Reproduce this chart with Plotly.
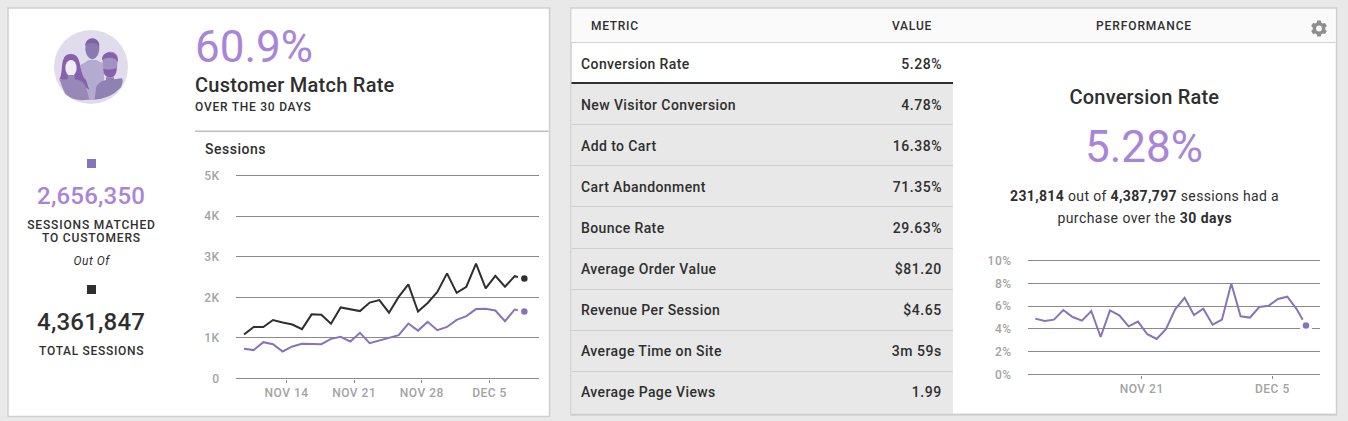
import json
import math
import re
import pandas as pd
import plotly.graph_objects as go

W, H = 1348, 421
dates = list(pd.date_range("2021-11-09 14:24", periods=30, freq="D"))
total_sessions = [1084, 1270, 1270, 1440, 1380, 1330, 1215, 1580, 1570, 1350, 1750, 1700, 1660, 1870, 1930,
                  1620, 2010, 2320, 1650, 1860, 2130, 2590, 2110, 2260, 2830, 2220, 2530, 2260, 2520, 2460]
matched_sessions = [730, 700, 895, 846, 665, 790, 854, 846, 846, 977, 1026, 910, 1125, 870, 930,
                    990, 1067, 1355, 1180, 1395, 1190, 1270, 1445, 1535, 1710, 1715, 1675, 1410, 1700, 1650]
conversion = [4.90, 4.69, 4.81, 5.66, 5.04, 4.72, 5.57, 3.29, 5.63, 5.19, 4.23, 4.64, 3.53, 3.12, 3.97,
              5.74, 6.73, 5.22, 5.77, 4.37, 4.81, 7.99, 5.10, 4.99, 5.92, 6.03, 6.62, 6.82, 5.74, 4.30]
metrics = ["Conversion Rate", "New Visitor Conversion", "Add to Cart", "Cart Abandonment", "Bounce Rate",
           "Average Order Value", "Revenue Per Session", "Average Time on Site", "Average Page Views"]
metric_values = ["5.28%", "4.78%", "16.38%", "71.35%", "29.63%", "$81.20", "$4.65", "3m 59s", "1.99"]
sessions_ticks = [0, 1000, 2000, 3000, 4000, 5000]
sessions_labels = ["0", "1K", "2K", "3K", "4K", "5K"]
conv_ticks = [0, 2, 4, 6, 8, 10]
conv_labels = ["0%", "2%", "4%", "6%", "8%", "10%"]
x_ticks_a = ["2021-11-14", "2021-11-21", "2021-11-28", "2021-12-05"]
x_labels_a = ["NOV 14", "NOV 21", "NOV 28", "DEC 5"]
x_ticks_b = ["2021-11-21", "2021-12-05"]
x_labels_b = ["NOV 21", "DEC 5"]

PURPLE = "#8674b8"
TEXT_PURPLE = "#a985d8"
DARK = "#2f2f2f"
GRID = "#8a8a8a"
TICK = "#a3a3a3"
FONT = "Roboto"


def fx(x):
    return x / W


def fy(y):
    return 1 - y / H


shapes, annotations, spacing = [], [], []


def rect(x0, y0, x1, y1, fill, line=None, lw=0):
    shapes.append(dict(type="rect", xref="paper", yref="paper", x0=fx(x0), x1=fx(x1), y0=fy(y0), y1=fy(y1),
                       fillcolor=fill, line=dict(color=line or fill, width=lw), layer="below"))


def ellipse(cx, cy, rx, ry, fill):
    shapes.append(dict(type="circle", xref="paper", yref="paper", x0=fx(cx - rx), x1=fx(cx + rx),
                       y0=fy(cy + ry), y1=fy(cy - ry), fillcolor=fill, line=dict(width=0), layer="below"))


def path(d, fill, scale=1 / 3):
    toks = re.findall(r"[A-Za-z]|-?\d+\.?\d*", d)
    out, is_x = [], True
    for t in toks:
        if t.isalpha():
            out.append(t)
            is_x = True
        else:
            v = float(t) * scale
            out.append(f"{fx(v):.5f}" if is_x else f"{fy(v):.5f}")
            is_x = not is_x
    shapes.append(dict(type="path", xref="paper", yref="paper", path=" ".join(out), fillcolor=fill,
                       line=dict(width=0), layer="below"))


def text(x, y, s, size=14, color=DARK, anchor="left", weight=500, style="normal", ls=0.0):
    if anchor == "left":
        x -= 1
    annotations.append(dict(xref="paper", yref="paper", x=fx(x), y=fy(y), text=s, showarrow=False,
                            xanchor=anchor, yanchor="middle", align=anchor, borderpad=0,
                            font=dict(family=FONT, size=size, color=color, weight=weight, style=style)))
    spacing.append(ls)


# page cards
rect(8, 8, 549.5, 416.5, "#ffffff", "#cfcfcf", 1.5)
rect(571, 8, 1336.5, 415, "#ffffff", "#cfcfcf", 1.5)

# table
rect(571.5, 9, 1335.5, 42, "#fafafa")
rect(571.5, 42, 1335.5, 43, "#d0d0d0")
rect(571.5, 84, 953, 413.5, "#e8e8e8")
rect(571.5, 82, 953, 84, DARK)
row_edges = [124, 165, 206, 248, 289, 330, 371]
for e in row_edges:
    rect(571.5, e, 953, e + 1, "#cfcfcf")
rect(571.5, 413.5, 1335.5, 415, "#cfcfcf")
text(591, 26, "METRIC", 12, ls=0.7)
text(933, 26, "VALUE", 12, anchor="right", ls=0.8)
text(1144, 26, "PERFORMANCE", 12, anchor="center", ls=0.9)
for i, (m, v) in enumerate(zip(metrics, metric_values)):
    yc = 64 + i * 41
    text(581, yc, m, 14, ls=0.4)
    text(943, yc, v, 14, anchor="right", ls=0.55)

# gear
gx, gy = 1319, 28.5
pts = []
for k in range(6):
    a = math.radians(60 * k - 90)
    for da, r in ((-22, 6.2), (-13, 8.2), (13, 8.2), (22, 6.2)):
        pts.append((gx + r * math.cos(a + math.radians(da)), gy + r * math.sin(a + math.radians(da))))
path("M " + " L ".join(f"{p[0]:.2f} {p[1]:.2f}" for p in pts) + " Z", "#8e8e8e", scale=1)
ellipse(gx, gy, 2.9, 2.9, "#fafafa")

# performance panel
text(1144, 97, "Conversion Rate", 20, anchor="center", ls=0.2)
text(1144, 147, "5.28%", 44, TEXT_PURPLE, anchor="center", weight=400)
text(1144, 196, "<b>231,814</b> out of <b>4,387,797</b> sessions had a", 14, anchor="center", weight=400, ls=0.36)
text(1144, 218, "purchase over the <b>30 days</b>", 14, anchor="center", weight=400, ls=0.45)

# left panel icon
ellipse(91, 67, 37, 37, "#e0dcec")
path("M 241 300 L 241 195 Q 262 184 265 180 L 290 180 Q 296 186 312 190 L 312 240 L 290 300 Z", "#b4acd0")
path("M 256 145 C 256 105 298 105 298 145 C 298 165 286 178 277 178 C 268 178 256 165 256 145 Z", "#8b7ab0")
path("M 256 138 C 254 108 300 108 298 138 C 290 126 264 126 256 138 Z", "#7f60ab")
path("M 178 238 C 192 220 176 162 212 162 C 250 162 234 220 258 240 L 268 270 L 230 240 L 190 240 Z", "#8560ad")
ellipse(213 / 3, 204 / 3, 17 / 3, 24 / 3, "#f0ecf8")
path("M 203 225 L 224 225 L 224 238 Q 250 240 258 262 L 268 298 Q 225 308 196 282 Q 186 262 178 238 Q 200 240 203 236 Z", "#9788b8")
path("M 307 172 C 315 150 350 150 353 172 L 351 210 C 345 240 318 240 310 210 Z", "#a093c2")
path("M 306 180 C 306 148 356 150 354 186 L 347 178 C 335 170 318 172 306 180 Z", "#8560ad")
path("M 310 206 Q 330 212 349 204 Q 350 232 330 232 Q 310 232 310 206 Z", "#8560ad")
path("M 318 232 L 342 232 L 342 238 L 365 235 Q 372 240 363 262 Q 330 298 284 298 L 288 262 Q 295 245 318 240 Z", "#9081b4")

text(195, 47, "60.9%", 44, TEXT_PURPLE, weight=400)
text(195, 85, "Customer Match Rate", 20, ls=0.26)
text(195, 107, "OVER THE 30 DAYS", 12, ls=0.75)
rect(195, 130.5, 548.5, 132, "#bdbdbd")
text(205, 149, "Sessions", 14, ls=0.5)
rect(87, 159, 96, 168, PURPLE)
text(91, 196, "2,656,350", 24, TEXT_PURPLE, anchor="center", ls=0.2)
text(91.5, 225, "SESSIONS MATCHED", 12, anchor="center", ls=0.85)
text(91.5, 238, "TO CUSTOMERS", 12, anchor="center", ls=0.85)
text(91.5, 261, "Out Of", 12, anchor="center", weight=400, style="italic", ls=0.5)
rect(87, 285, 96, 294, DARK)
text(91, 322, "4,361,847", 24, anchor="center", ls=0.2)
text(91, 351, "TOTAL SESSIONS", 12, anchor="center", ls=0.7)

fig = go.Figure()


def series(xa, ya, y, color):
    fig.add_trace(go.Scatter(x=dates, y=y, xaxis=xa, yaxis=ya, mode="lines", line=dict(color=color, width=2),
                             hoverinfo="skip", showlegend=False))
    fig.add_trace(go.Scatter(x=dates[-1:], y=y[-1:], xaxis=xa, yaxis=ya, mode="markers",
                             marker=dict(color=color, size=10, line=dict(color="#ffffff", width=3.5)),
                             hoverinfo="skip", showlegend=False, cliponaxis=False))


series("x", "y", total_sessions, DARK)
series("x", "y", matched_sessions, PURPLE)
series("x2", "y2", conversion, PURPLE)

day = pd.Timedelta(days=1)
axis_font = dict(family=FONT, size=12, color=TICK, weight=500)
PAD = 2  # px of headroom so the first and last gridline survive plotly's end clipping


def xaxis(px0, px1, step, first, vals, labels, py):
    return dict(domain=[fx(px0), fx(px1)], type="date", anchor="free", position=fy(py),
                range=[dates[0] - day * (first - px0) / step, dates[0] + day * (px1 - first) / step],
                tickmode="array", tickvals=vals, ticktext=labels, ticks="outside", ticklen=3, tickcolor=GRID,
                tickwidth=1, showgrid=False, zeroline=False, showline=False, tickfont=axis_font, automargin=False)


def yaxis(py0, py1, top, vals, labels, anchor):
    u = top / (py0 - py1)
    return dict(domain=[fy(py0 + PAD), fy(py1 - PAD)], range=[-PAD * u, top + PAD * u], tickmode="array",
                tickvals=vals, ticktext=labels, anchor=anchor, automargin=False,
                showgrid=True, gridcolor=GRID, gridwidth=1, zeroline=False, showline=False, ticks="outside",
                ticklen=13, tickcolor="rgba(0,0,0,0)", tickfont=axis_font)


xa = xaxis(236, 539, 9.667, 244, x_ticks_a, x_labels_a, 378.5)
xb = xaxis(1028, 1320, 9.333, 1035.3, x_ticks_b, x_labels_b, 374.5)
ya = yaxis(378.5, 175.5, 5000, sessions_ticks, sessions_labels, "x")
yb = yaxis(374.5, 260.5, 10, conv_ticks, conv_labels, "x2")

fig.update_layout(width=W, height=H, margin=dict(l=0, r=0, t=0, b=0), autosize=False, paper_bgcolor="#e9e9e9",
                  plot_bgcolor="rgba(0,0,0,0)", showlegend=False, hovermode=False, shapes=shapes,
                  annotations=annotations, xaxis=xa, yaxis=ya, xaxis2=xb, yaxis2=yb,
                  font=dict(family=FONT))

post = """
document.body.style.margin='0';document.documentElement.style.overflow='hidden';
var sp=%s;
document.querySelectorAll('.annotation').forEach(function(a){
  var i=+a.getAttribute('data-index');
  var t=a.querySelector('text');
  if(t&&sp[i]){t.style.letterSpacing=sp[i]+'px';}
});
document.querySelectorAll('.xtick text,.ytick text,.x2tick text,.y2tick text').forEach(function(t){t.style.letterSpacing='0.5px';});
""" % json.dumps(spacing)
fig.write_html("out.html", config=dict(displayModeBar=False, staticPlot=True), post_script=post)
